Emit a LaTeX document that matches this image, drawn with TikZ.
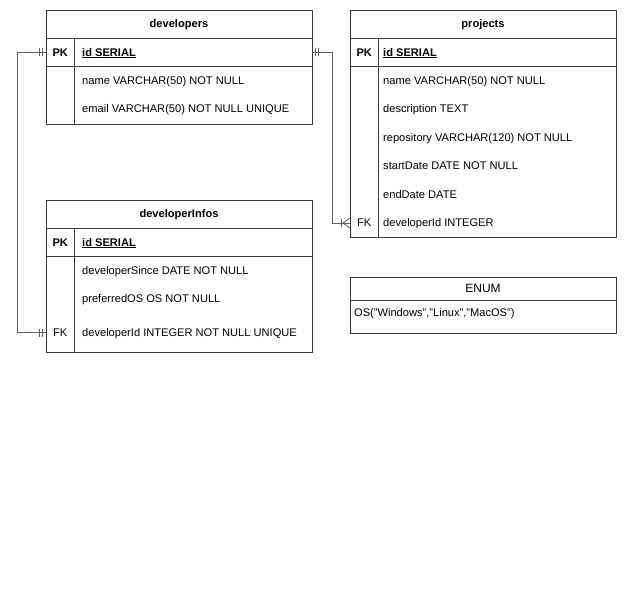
\documentclass[tikz,border=0pt]{standalone}
\usepackage{fontspec}
\setmainfont{Liberation Sans}
\definecolor{boxline}{HTML}{3A3A3A}
\definecolor{connc}{HTML}{606060}
\tikzset{
  cell/.style={draw=boxline, line width=0.9pt, minimum width=266pt, inner sep=0pt, outer sep=0pt},
  rowspan/.style={minimum width=266pt, minimum height=20pt, inner sep=0pt, outer sep=0pt},
  txt/.style={anchor=west, inner sep=0pt, font=\fontsize{11.1}{13}\selectfont, text height=9.8pt, text depth=2pt},
  keytxt/.style={inner sep=0pt, font=\fontsize{11.1}{13}\selectfont, text height=9.8pt, text depth=2pt},
  ttl/.style={inner sep=0pt, font=\fontsize{11.1}{13}\selectfont\bfseries, text height=9.8pt, text depth=2pt},
  divline/.style={draw=boxline, line width=0.9pt},
  connline/.style={draw=connc, line width=0.9pt},
}
\begin{document}
\begin{tikzpicture}[x=1pt,y=-1pt]
\useasboundingbox (0,0) rectangle (627,590);
% ---------- developers ----------
\node[cell, minimum height=28pt] (devh) at (179,24) {};
\node[ttl] (devt) at (devh.center) {developers};
\node[cell, minimum height=28.5pt] (devpk) at (179,52.25) {};
\node[cell, minimum height=57.5pt] (devbody) at (179,95.25) {};
\draw[divline] (74.5,38) -- (74.5,124);
\node[keytxt, font=\fontsize{11.1}{13}\selectfont\bfseries] (devpkl) at (60.25,52.25) {PK};
\node[txt, font=\fontsize{11.1}{13}\selectfont\bfseries] (devid) at (82,52.25) {\underline{id SERIAL}};
\node[txt] (devname) at (82,81) {name VARCHAR(50) NOT NULL};
\node[txt] (devemail) at (82,108.5) {email VARCHAR(50) NOT NULL UNIQUE};
% ---------- projects ----------
\node[cell, minimum height=28pt] (projh) at (483,24) {};
\node[ttl] (projt) at (projh.center) {projects};
\node[cell, minimum height=28.5pt] (projpk) at (483,52.25) {};
\node[cell, minimum height=170.5pt] (projbody) at (483,151.75) {};
\draw[divline] (378.5,38) -- (378.5,237);
\node[keytxt, font=\fontsize{11.1}{13}\selectfont\bfseries] (projpkl) at (364.25,52.25) {PK};
\node[txt, font=\fontsize{11.1}{13}\selectfont\bfseries] (projid) at (383,52.25) {\underline{id SERIAL}};
\node[txt] (projname) at (383,81) {name VARCHAR(50) NOT NULL};
\node[txt] (projdesc) at (383,109) {description TEXT};
\node[txt] (projrepo) at (383,138) {repository VARCHAR(120) NOT NULL};
\node[txt] (projstart) at (383,166) {startDate DATE NOT NULL};
\node[txt] (projend) at (383,195) {endDate DATE};
\node[txt] (projdev) at (383,223) {developerId INTEGER};
\node[keytxt] (projfkl) at (364.25,223) {FK};
\node[rowspan] (projfk) at (483,223) {};
% ---------- developerInfos ----------
\node[cell, minimum height=28pt] (infoh) at (179,214) {};
\node[ttl] (infot) at (infoh.center) {developerInfos};
\node[cell, minimum height=28.5pt] (infopk) at (179,242.25) {};
\node[cell, minimum height=95.5pt] (infobody) at (179,304.25) {};
\draw[divline] (74.5,228) -- (74.5,352);
\node[keytxt, font=\fontsize{11.1}{13}\selectfont\bfseries] (infopkl) at (60.25,242.25) {PK};
\node[txt, font=\fontsize{11.1}{13}\selectfont\bfseries] (infoid) at (82,242.25) {\underline{id SERIAL}};
\node[txt] (infosince) at (82,271) {developerSince DATE NOT NULL};
\node[txt] (infoos) at (82,299) {preferredOS OS NOT NULL};
\node[txt] (infodev) at (82,332.5) {developerId INTEGER NOT NULL UNIQUE};
\node[keytxt] (infofkl) at (60.25,332.5) {FK};
\node[rowspan] (infofk) at (179,332.5) {};
% ---------- ENUM ----------
\node[cell, minimum height=23pt] (enumh) at (483,288.5) {};
\node[keytxt, font=\fontsize{12}{14}\selectfont] (enumt) at (enumh.center) {ENUM};
\node[cell, minimum height=33pt] (enumbody) at (483,316.5) {};
\node[txt] (enumos) at (354,313) {OS("Windows","Linux","MacOS")};
% ---------- connectors ----------
% developers.id -- developerInfos.developerId (one to one)
\draw[connline] (devpk.west) -- ++(-29,0) |- (infofk.west);
\draw[connline] ([shift={(-4,-4)}]devpk.west) -- ++(0,8);
\draw[connline] ([shift={(-7,-4)}]devpk.west) -- ++(0,8);
\draw[connline] ([shift={(-4,-4)}]infofk.west) -- ++(0,8);
\draw[connline] ([shift={(-7,-4)}]infofk.west) -- ++(0,8);
% developers.id -- projects.developerId (one to many)
\draw[connline] (devpk.east) -- ++(20,0) |- (projfk.west);
\draw[connline] ([shift={(3,-4)}]devpk.east) -- ++(0,8);
\draw[connline] ([shift={(6,-4)}]devpk.east) -- ++(0,8);
\draw[connline] ([shift={(-9,-4)}]projfk.west) -- ++(0,8);
\draw[connline] ([shift={(0,-5)}]projfk.west) -- ++(-7,5) -- ++(7,5);
\end{tikzpicture}
\end{document}
